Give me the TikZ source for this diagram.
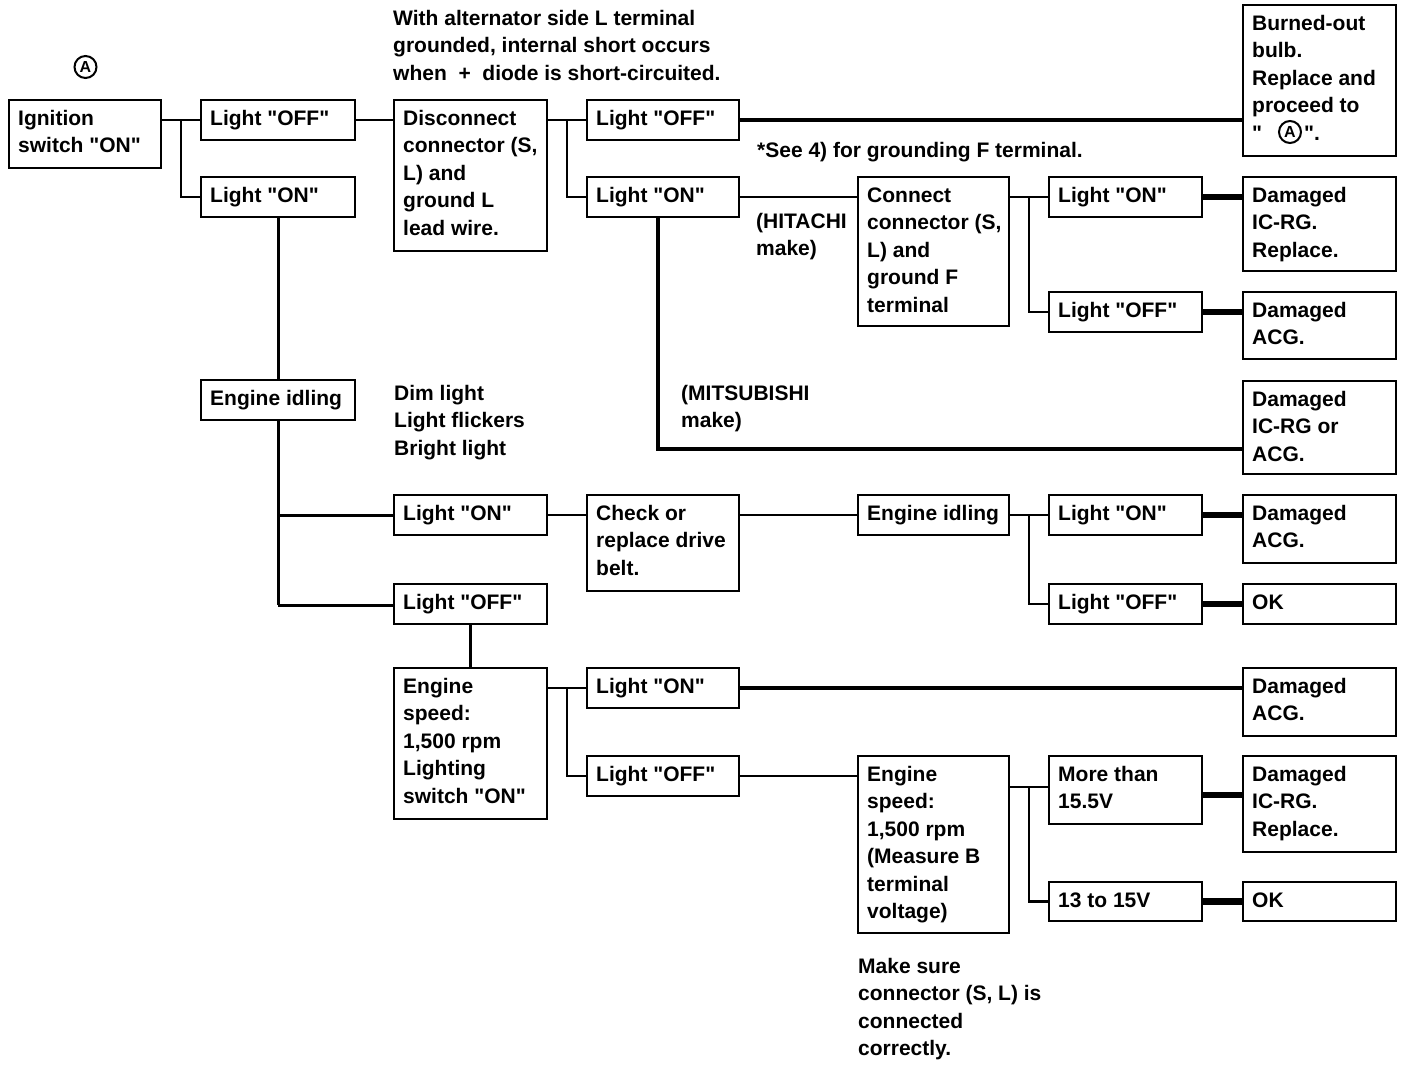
\documentclass[tikz,border=0pt]{standalone}
\usepackage{fontspec}
\setmainfont{Liberation Sans}[Ligatures=TeXOff]
\usetikzlibrary{calc}
\newcommand\tl[1]{\parbox[t]{500pt}{\raggedright #1}}
\newcommand\bx[6]{%
  \node[box,minimum width={#4-#2},minimum height={#5-#3}] (#1) at (#2,#3) {};
  \node[txt] (#1t) at ({#2+9},{#3+25}) {\tl{#6}};}
\begin{document}
\begin{tikzpicture}[x=1pt,y=-1pt,
  box/.style={draw,line width=2.6pt,inner sep=0pt,outer sep=0pt,anchor=north west},
  txt/.style={inner sep=0pt,anchor=base west,font=\fontsize{21}{27.5}\selectfont\bfseries},
  circA/.style={circle,draw,line width=2pt,minimum size=22pt,inner sep=0pt,font=\fontsize{16}{16}\selectfont\bfseries},
  ln/.style={line width=2.2pt},
  lnm/.style={line width=3pt},
  lnk/.style={line width=4.5pt},
  stub/.style={line width=6.5pt}]
\useasboundingbox (0,0) rectangle (1408,1066);

% boxes
\bx{ign}{9}{100}{161}{168}{Ignition\\switch "ON"}
\bx{offa}{201}{100}{355}{140}{Light "OFF"}
\bx{ona}{201}{177}{355}{217}{Light "ON"}
\bx{disc}{394}{100}{547}{251}{Disconnect\\connector (S,\\L) and\\ground L\\lead wire.}
\bx{offb}{587}{100}{739}{140}{Light "OFF"}
\bx{onb}{587}{177}{739}{217}{Light "ON"}
\bx{burn}{1243}{5}{1396}{156}{Burned-out\\bulb.\\Replace and\\proceed to\\"\hspace*{42pt}".}
\bx{conn}{858}{177}{1009}{326}{Connect\\connector (S,\\L) and\\ground F\\terminal}
\bx{onc}{1049}{177}{1202}{217}{Light "ON"}
\bx{offc}{1049}{292}{1202}{332}{Light "OFF"}
\bx{dmga}{1243}{177}{1396}{271}{Damaged\\IC-RG.\\Replace.}
\bx{dmgb}{1243}{292}{1396}{359}{Damaged\\ACG.}
\bx{dmgc}{1243}{381}{1396}{474}{Damaged\\IC-RG or\\ACG.}
\bx{idla}{201}{380}{355}{420}{Engine idling}
\bx{ond}{394}{495}{547}{535}{Light "ON"}
\bx{chk}{587}{495}{739}{591}{Check or\\replace drive\\belt.}
\bx{idlb}{858}{495}{1009}{535}{Engine idling}
\bx{one}{1049}{495}{1202}{535}{Light "ON"}
\bx{dmgd}{1243}{495}{1396}{563}{Damaged\\ACG.}
\bx{offe}{1049}{584}{1202}{624}{Light "OFF"}
\bx{oka}{1243}{584}{1396}{624}{OK}
\bx{offd}{394}{584}{547}{624}{Light "OFF"}
\bx{spda}{394}{668}{547}{819}{Engine\\speed:\\1,500 rpm\\Lighting\\switch "ON"}
\bx{onf}{587}{668}{739}{708}{Light "ON"}
\bx{dmge}{1243}{668}{1396}{736}{Damaged\\ACG.}
\bx{offf}{587}{756}{739}{796}{Light "OFF"}
\bx{spdb}{858}{756}{1009}{933}{Engine\\speed:\\1,500 rpm\\(Measure B\\terminal\\voltage)}
\bx{more}{1049}{756}{1202}{824}{More than\\15.5V}
\bx{dmgf}{1243}{756}{1396}{852}{Damaged\\IC-RG.\\Replace.}
\bx{vlt}{1049}{882}{1202}{921}{13 to 15V}
\bx{okb}{1243}{882}{1396}{921}{OK}

% circled A marks
\node[circA] (cA) at (85.5,67) {A};
\node[circA] (cAb) at (1290,132) {A};

% free texts
\node[txt] (nA) at (393,25) {\tl{With alternator side L terminal\\grounded, internal short occurs\\when \;+\; diode is short-circuited.}};
\node[txt] (nSee) at (757,157) {*See 4) for grounding F terminal.};
\node[txt] (nHit) at (756,228) {\tl{(HITACHI\\make)}};
\node[txt] (nMit) at (681,400) {\tl{(MITSUBISHI\\make)}};
\node[txt] (nDim) at (394,400) {\tl{Dim light\\Light flickers\\Bright light}};
\node[txt] (nMk) at (858,973) {\tl{Make sure\\connector (S, L) is\\connected\\correctly.}};

% helper coordinates
\coordinate (b1) at (181,120);
\coordinate (b2) at (567,120);
\coordinate (b3) at (1029,197);
\coordinate (mit) at (658,217);
\coordinate (mitc) at (658,449);
\coordinate (b4) at (278,605);
\coordinate (b5) at (1029,515);
\coordinate (b6) at (567,688);
\coordinate (b7) at (1029,787);

% connectors
\draw[ln] (ign.east|-b1) -- (offa.west|-b1);
\draw[ln] (b1) |- (ona.west);
\draw[ln] (offa.east) -- (disc.west|-offa.east);
\draw[ln] (disc.east|-b2) -- (offb.west);
\draw[ln] (b2) |- (onb.west);
\draw[lnk] (offb.east) -- (burn.west|-offb.east);
\draw[ln] (onb.east) -- (conn.west|-onb.east);
\draw[lnk] (mit) -- (mitc) -- (dmgc.west|-mitc);
\draw[ln] (conn.east|-b3) -- (onc.west);
\draw[ln] (b3) |- (offc.west);
\draw[stub] (onc.east) -- (dmga.west|-onc.east);
\draw[stub] (offc.east) -- (dmgb.west|-offc.east);
\draw[lnm] (ona.south) -- (idla.north);
\draw[lnm] (idla.south) -- (b4);
\draw[lnm] (idla.south|-ond.west) -- (ond.west);
\draw[lnm] (b4) -- (offd.west|-b4);
\draw[ln] (ond.east) -- (chk.west|-ond.east);
\draw[ln] (chk.east|-ond.east) -- (idlb.west);
\draw[ln] (idlb.east) -- (one.west);
\draw[ln] (b5) |- (offe.west);
\draw[stub] (one.east) -- (dmgd.west|-one.east);
\draw[stub] (offe.east) -- (oka.west);
\draw[lnm] (offd.south) -- (spda.north);
\draw[ln] (spda.east|-b6) -- (onf.west);
\draw[ln] (b6) |- (offf.west);
\draw[lnk] (onf.east) -- (dmge.west|-onf.east);
\draw[ln] (offf.east) -- (spdb.west|-offf.east);
\draw[ln] (spdb.east|-b7) -- (more.west|-b7);
\draw[ln] (b7) |- (vlt.west);
\draw[stub] (more.east|-0,795) -- (dmgf.west|-0,795);
\draw[stub] (vlt.east) -- (okb.west|-vlt.east);
\end{tikzpicture}
\end{document}
